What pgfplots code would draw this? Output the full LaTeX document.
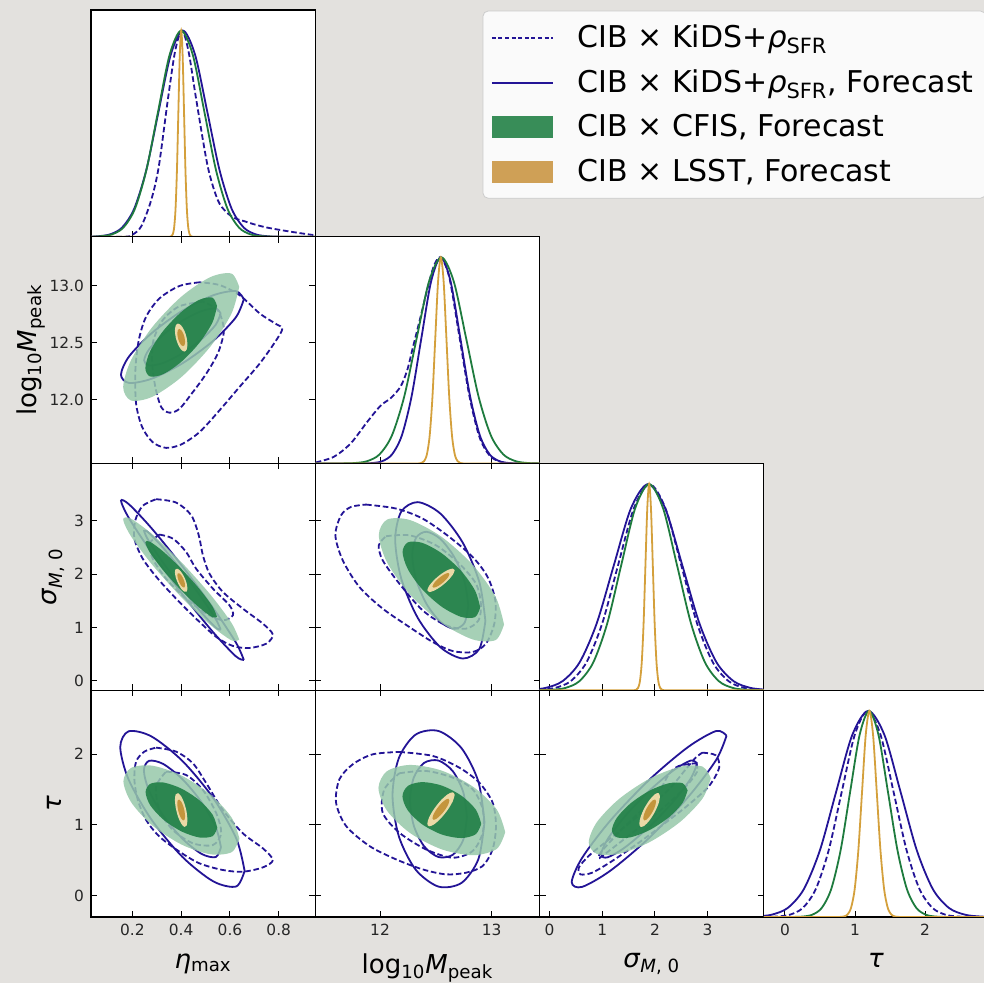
\documentclass[border=0pt]{standalone}
\usepackage{pgfplots}
\pgfplotsset{compat=1.18}
\usepackage{fontspec}
\setmainfont{DejaVu Sans}
\definecolor{bg}{HTML}{E3E1DE}
\definecolor{kblue}{HTML}{231496}
\definecolor{cgreen}{HTML}{1E7B3E}
\definecolor{cgreenlight}{HTML}{97C8AA}
\definecolor{cgreendark}{HTML}{1F7F45}
\definecolor{cgreenleg}{HTML}{177A3C}
\definecolor{lgoldlight}{HTML}{EBD9A6}
\definecolor{lgolddark}{HTML}{C4953C}
\definecolor{lgoldline}{HTML}{D4A03C}
\definecolor{lgoldleg}{HTML}{C8913A}
\pgfplotsset{
  panel/.style={scale only axis, width=112.15pt, height=113.375pt, anchor=south west,
    axis line style={black, line width=0.55pt},
    tick align=inside, major tick length=3pt, every tick/.style={black, line width=0.5pt},
    axis background/.style={fill=white},
    tick label style={font=\fontsize{7.7}{9}\selectfont, text=black!85},
    label style={font=\fontsize{13}{15}\selectfont, text=black},
    xlabel style={yshift=-2pt},
    xticklabel=\empty, yticklabel=\empty},
  oned/.style={panel, ymin=0, ymax=1.1, ytick=\empty, xtick pos=bottom},
  twod/.style={panel, xtick pos=both, ytick pos=both},
  ex/.style={xmin=0.03, xmax=0.95, xtick={0.2,0.4,0.6,0.8}},
  mx/.style={xmin=11.42, xmax=13.43, xtick={12,13}},
  sx/.style={xmin=-0.19, xmax=4.07, xtick={0,1,2,3}},
  tx/.style={xmin=-0.30, xmax=2.90, xtick={0,1,2}},
  my/.style={ymin=11.44, ymax=13.43, ytick={12,12.5,13}},
  sy/.style={ymin=-0.18, ymax=4.08, ytick={0,1,2,3}},
  ty/.style={ymin=-0.30, ymax=2.90, ytick={0,1,2}},
  dsh/.style={kblue, line width=0.9pt, dash pattern=on 2.8pt off 1.4pt, smooth, no markers},
  sol/.style={kblue, line width=0.9pt, smooth, no markers},
  gout/.style={draw=none, fill=cgreenlight, fill opacity=0.85, smooth, no markers},
  gin/.style={draw=none, fill=cgreendark, fill opacity=0.9, smooth, no markers},
  yout/.style={draw=none, fill=lgoldlight, smooth, no markers},
  yin/.style={draw=none, fill=lgolddark, smooth, no markers},
  gl/.style={cgreen, line width=0.9pt, smooth, no markers},
  yl/.style={lgoldline, line width=0.9pt, smooth, no markers},
  linelegend/.style={legend image code/.code={\draw[##1, sharp corners] (0pt,0pt) -- (30.5pt,0pt);}},
  boxlegend/.style={legend image code/.code={\fill[##1, sharp corners] (0pt,-5.5pt) rectangle (30.5pt,5.5pt);}},
}
\begin{document}
\begin{tikzpicture}
\path[use as bounding box, fill=bg] (0pt,0pt) rectangle (492pt,491.5pt);

% ---------- eta 1D
\begin{axis}[oned, ex, at={(45.5pt,373.125pt)}]
\addplot[dsh] coordinates {(0.03,0) (0.17,0) (0.20,0.01) (0.236,0.05) (0.277,0.178) (0.308,0.34) (0.345,0.663) (0.375,0.9) (0.403,1.0) (0.43,0.9) (0.462,0.663) (0.509,0.34) (0.55,0.178) (0.585,0.12) (0.62,0.09) (0.66,0.075) (0.70,0.06) (0.75,0.045) (0.82,0.03) (0.89,0.017) (0.95,0.007)};
\addplot[sol] coordinates {(0.03,0.0001) (0.057,0.0022) (0.107,0.0111) (0.157,0.0439) (0.207,0.1353) (0.257,0.3247) (0.307,0.6065) (0.357,0.8825) (0.407,1) (0.457,0.8825) (0.507,0.6065) (0.557,0.3247) (0.607,0.1353) (0.657,0.0439) (0.707,0.0111) (0.757,0.0022) (0.807,0.0003) (0.907,0) (0.95,0)};
\addplot[gl] coordinates {(0.03,0) (0.0675,0.0022) (0.115,0.0111) (0.1625,0.0439) (0.21,0.1353) (0.2575,0.3247) (0.305,0.6065) (0.3525,0.8825) (0.4,1) (0.4475,0.8825) (0.495,0.6065) (0.5425,0.3247) (0.59,0.1353) (0.6375,0.0439) (0.685,0.0111) (0.7325,0.0022) (0.78,0.0003) (0.875,0) (0.95,0)};
\addplot[yl] coordinates {(0.03,0) (0.33,0) (0.3536,0.0003) (0.3594,0.0022) (0.3652,0.0111) (0.371,0.0439) (0.3768,0.1353) (0.3826,0.3247) (0.3884,0.6065) (0.3942,0.8825) (0.4,1) (0.4058,0.8825) (0.4116,0.6065) (0.4174,0.3247) (0.4232,0.1353) (0.429,0.0439) (0.4348,0.0111) (0.4406,0.0022) (0.4464,0.0003) (0.47,0) (0.95,0)};
\end{axis}

% ---------- eta - logM
\begin{axis}[twod, ex, my, at={(45.5pt,259.75pt)}, yticklabels={12.0,12.5,13.0},
  ylabel={log\textsubscript{10}\textit{M}\textsubscript{peak}},
  ylabel style={at={(axis description cs:-0.245,0.5)}, anchor=base}]
\addplot[dsh] coordinates {(0.475,13.03) (0.393,12.998) (0.311,12.889) (0.256,12.728) (0.226,12.522) (0.212,12.258) (0.215,11.965) (0.240,11.759) (0.283,11.627) (0.338,11.577) (0.400,11.607) (0.475,11.715) (0.557,11.906) (0.639,12.111) (0.722,12.317) (0.790,12.522) (0.815,12.625) (0.790,12.663) (0.722,12.757) (0.639,12.918) (0.557,13.006) (0.475,13.03)};
\addplot[dsh] coordinates {(0.489,12.86) (0.393,12.82) (0.325,12.70) (0.286,12.52) (0.281,12.32) (0.294,12.11) (0.318,11.935) (0.352,11.886) (0.393,11.92) (0.448,12.067) (0.503,12.229) (0.550,12.405) (0.574,12.58) (0.568,12.698) (0.544,12.80) (0.489,12.86)};
\addplot[sol] coordinates {(0.657,12.882) (0.624,12.953) (0.531,12.916) (0.405,12.781) (0.279,12.584) (0.186,12.379) (0.153,12.219) (0.186,12.147) (0.279,12.184) (0.405,12.319) (0.531,12.516) (0.624,12.722) (0.657,12.882)};
\addplot[sol] coordinates {(0.562,12.756) (0.541,12.800) (0.483,12.777) (0.405,12.693) (0.327,12.571) (0.269,12.444) (0.248,12.344) (0.269,12.300) (0.327,12.323) (0.405,12.407) (0.483,12.529) (0.541,12.656) (0.562,12.756)};
\addplot[gout] coordinates {(0.638,12.990) (0.606,13.107) (0.519,13.075) (0.400,12.903) (0.281,12.636) (0.194,12.346) (0.162,12.111) (0.194,11.993) (0.281,12.025) (0.400,12.197) (0.519,12.464) (0.606,12.754) (0.638,12.990)};
\addplot[gin] coordinates {(0.547,12.823) (0.528,12.896) (0.474,12.876) (0.400,12.769) (0.326,12.603) (0.272,12.423) (0.253,12.277) (0.272,12.204) (0.326,12.224) (0.400,12.331) (0.474,12.497) (0.528,12.677) (0.547,12.823)};
\addplot[yout] coordinates {(0.4257,12.4837) (0.4223,12.545) (0.4129,12.6062) (0.400,12.6511) (0.3871,12.6676) (0.3777,12.6512) (0.3743,12.6063) (0.3777,12.545) (0.3871,12.4838) (0.400,12.4389) (0.4129,12.4224) (0.4223,12.4388) (0.4257,12.4837)};
\addplot[yin] coordinates {(0.4159,12.507) (0.4138,12.545) (0.408,12.583) (0.400,12.6108) (0.392,12.621) (0.3862,12.6108) (0.3841,12.583) (0.3862,12.545) (0.392,12.507) (0.400,12.4792) (0.408,12.469) (0.4138,12.4792) (0.4159,12.507)};
\end{axis}

% ---------- logM 1D
\begin{axis}[oned, mx, at={(157.65pt,259.75pt)}]
\addplot[dsh] coordinates {(11.424,0.005) (11.588,0.033) (11.738,0.098) (11.887,0.203) (12.006,0.281) (12.096,0.317) (12.185,0.374) (12.245,0.455) (12.29,0.553) (12.335,0.65) (12.38,0.748) (12.424,0.846) (12.483,0.959) (12.543,1.0) (12.62,0.905) (12.71,0.62) (12.80,0.33) (12.89,0.13) (12.98,0.04) (13.07,0.01) (13.2,0.0) (13.43,0)};
\addplot[sol] coordinates {(11.42,0) (11.7,0) (11.845,0.0003) (11.9325,0.0022) (12.02,0.0111) (12.1075,0.0439) (12.195,0.1353) (12.2825,0.3247) (12.37,0.6065) (12.4575,0.8825) (12.545,1) (12.6325,0.8825) (12.72,0.6065) (12.8075,0.3247) (12.895,0.1353) (12.9825,0.0439) (13.07,0.0111) (13.1575,0.0022) (13.245,0.0003) (13.35,0) (13.43,0)};
\addplot[gl] coordinates {(11.42,0) (11.55,0) (11.662,0.0003) (11.773,0.0022) (11.884,0.0111) (11.995,0.0439) (12.106,0.1353) (12.217,0.3247) (12.328,0.6065) (12.439,0.8825) (12.55,1) (12.661,0.8825) (12.772,0.6065) (12.883,0.3247) (12.994,0.1353) (13.105,0.0439) (13.216,0.0111) (13.327,0.0022) (13.438,0.0003)};
\addplot[yl] coordinates {(11.42,0) (12.3,0) (12.345,0.0003) (12.37,0.0022) (12.395,0.0111) (12.42,0.0439) (12.445,0.1353) (12.47,0.3247) (12.495,0.6065) (12.52,0.8825) (12.545,1) (12.57,0.8825) (12.595,0.6065) (12.62,0.3247) (12.645,0.1353) (12.67,0.0439) (12.695,0.0111) (12.72,0.0022) (12.745,0.0003) (12.79,0) (13.43,0)};
\end{axis}

% ---------- eta - sigma
\begin{axis}[twod, ex, sy, at={(45.5pt,146.375pt)}, yticklabels={0,1,2,3},
  ylabel={\textit{σ}\textsubscript{\textit{M}, 0}},
  ylabel style={at={(axis description cs:-0.152,0.5)}, anchor=base}]
\addplot[dsh] coordinates {(0.297,3.409) (0.379,3.346) (0.441,3.108) (0.472,2.732) (0.489,2.356) (0.516,2.011) (0.571,1.667) (0.653,1.353) (0.735,1.071) (0.776,0.865) (0.749,0.695) (0.680,0.614) (0.612,0.652) (0.544,0.821) (0.461,1.165) (0.379,1.541) (0.304,1.917) (0.242,2.293) (0.208,2.669) (0.212,3.014) (0.242,3.283) (0.297,3.409)};
\addplot[dsh] coordinates {(0.311,2.744) (0.366,2.669) (0.420,2.419) (0.461,2.105) (0.530,1.729) (0.598,1.416) (0.612,1.228) (0.571,1.134) (0.503,1.259) (0.420,1.541) (0.338,1.917) (0.283,2.293) (0.270,2.575) (0.311,2.744)};
\addplot[sol] coordinates {(0.657,0.389) (0.624,0.720) (0.531,1.364) (0.405,2.147) (0.279,2.860) (0.186,3.312) (0.153,3.381) (0.186,3.050) (0.279,2.406) (0.405,1.623) (0.531,0.910) (0.624,0.458) (0.657,0.389)};
\addplot[sol] coordinates {(0.562,0.957) (0.541,1.163) (0.483,1.562) (0.405,2.048) (0.327,2.490) (0.269,2.770) (0.248,2.813) (0.269,2.607) (0.327,2.208) (0.405,1.722) (0.483,1.280) (0.541,1.000) (0.562,0.957)};
\addplot[gout] coordinates {(0.638,0.771) (0.606,1.087) (0.519,1.621) (0.400,2.229) (0.281,2.750) (0.194,3.042) (0.162,3.029) (0.194,2.713) (0.281,2.179) (0.400,1.571) (0.519,1.050) (0.606,0.758) (0.638,0.771)};
\addplot[gin] coordinates {(0.547,1.200) (0.528,1.396) (0.474,1.727) (0.400,2.104) (0.326,2.427) (0.272,2.609) (0.253,2.600) (0.272,2.404) (0.326,2.073) (0.400,1.696) (0.474,1.373) (0.528,1.191) (0.547,1.200)};
\addplot[yout] coordinates {(0.4257,1.7306) (0.4223,1.830) (0.4129,1.9441) (0.400,2.0424) (0.3871,2.0985) (0.3777,2.0974) (0.3743,2.0394) (0.3777,1.940) (0.3871,1.8259) (0.400,1.7276) (0.4129,1.6715) (0.4223,1.6726) (0.4257,1.7306)};
\addplot[yin] coordinates {(0.4159,1.7892) (0.4138,1.8509) (0.408,1.9217) (0.400,1.9827) (0.392,2.0175) (0.3862,2.0169) (0.3841,1.9808) (0.3862,1.9191) (0.392,1.8483) (0.400,1.7873) (0.408,1.7525) (0.4138,1.7531) (0.4159,1.7892)};
\end{axis}

% ---------- logM - sigma
\begin{axis}[twod, mx, sy, at={(157.65pt,146.375pt)}]
\addplot[dsh] coordinates {(11.875,3.308) (12.144,3.233) (12.382,3.044) (12.621,2.700) (12.83,2.324) (12.964,1.948) (13.033,1.509) (13.024,1.070) (12.949,0.695) (12.83,0.538) (12.651,0.557) (12.472,0.726) (12.263,1.008) (12.024,1.353) (11.815,1.760) (11.666,2.261) (11.60,2.731) (11.651,3.107) (11.741,3.264) (11.875,3.308)};
\addplot[dsh] coordinates {(12.054,2.713) (12.263,2.731) (12.502,2.543) (12.71,2.198) (12.859,1.823) (12.904,1.447) (12.883,1.133) (12.77,0.977) (12.591,1.039) (12.382,1.321) (12.173,1.823) (12.024,2.261) (11.989,2.543) (12.054,2.713)};
\addplot[sol] coordinates {(12.944,1.121) (12.890,1.851) (12.742,2.590) (12.540,3.140) (12.338,3.354) (12.190,3.175) (12.136,2.649) (12.190,1.919) (12.338,1.180) (12.540,0.630) (12.742,0.416) (12.890,0.595) (12.944,1.121)};
\addplot[sol] coordinates {(12.791,1.411) (12.757,1.864) (12.665,2.322) (12.540,2.664) (12.415,2.797) (12.323,2.685) (12.289,2.359) (12.323,1.906) (12.415,1.448) (12.540,1.106) (12.665,0.973) (12.757,1.085) (12.791,1.411)};
\addplot[gout] coordinates {(13.111,1.055) (13.036,1.573) (12.831,2.176) (12.550,2.704) (12.270,3.016) (12.064,3.027) (11.989,2.735) (12.064,2.218) (12.270,1.614) (12.550,1.086) (12.831,0.774) (13.036,0.763) (13.111,1.055)};
\addplot[gin] coordinates {(12.898,1.374) (12.851,1.695) (12.724,2.069) (12.550,2.397) (12.376,2.590) (12.249,2.597) (12.202,2.416) (12.249,2.095) (12.376,1.721) (12.550,1.393) (12.724,1.200) (12.851,1.193) (12.898,1.374)};
\addplot[yout] coordinates {(12.669,2.072) (12.652,2.105) (12.607,2.079) (12.546,2.001) (12.485,1.892) (12.440,1.781) (12.424,1.698) (12.440,1.665) (12.485,1.691) (12.546,1.769) (12.607,1.878) (12.652,1.989) (12.669,2.072)};
\addplot[yin] coordinates {(12.622,2.001) (12.612,2.022) (12.584,2.006) (12.546,1.957) (12.508,1.889) (12.480,1.820) (12.470,1.769) (12.480,1.748) (12.508,1.764) (12.546,1.813) (12.584,1.881) (12.612,1.950) (12.622,2.001)};
\end{axis}

% ---------- sigma 1D
\begin{axis}[oned, sx, at={(269.8pt,146.375pt)}]
\addplot[dsh] coordinates {(-0.2,0.0022) (0.1,0.0111) (0.4,0.0439) (0.7,0.1353) (1.0,0.3247) (1.3,0.6065) (1.6,0.8825) (1.9,1) (2.2,0.8825) (2.5,0.6065) (2.8,0.3247) (3.1,0.1353) (3.4,0.0439) (3.7,0.0111) (4.0,0.0022) (4.3,0.0003)};
\addplot[sol] coordinates {(-0.405,0.0022) (-0.08,0.0111) (0.245,0.0439) (0.57,0.1353) (0.895,0.3247) (1.22,0.6065) (1.545,0.8825) (1.87,1) (2.195,0.8825) (2.52,0.6065) (2.845,0.3247) (3.17,0.1353) (3.495,0.0439) (3.82,0.0111) (4.145,0.0022)};
\addplot[gl] coordinates {(-0.19,0.0005) (0.035,0.0022) (0.30,0.0111) (0.565,0.0439) (0.83,0.1353) (1.095,0.3247) (1.36,0.6065) (1.625,0.8825) (1.89,1) (2.155,0.8825) (2.42,0.6065) (2.685,0.3247) (2.95,0.1353) (3.215,0.0439) (3.48,0.0111) (3.745,0.0022) (4.01,0.0003) (4.07,0.0002)};
\addplot[yl] coordinates {(-0.19,0) (1.55,0) (1.61,0.0003) (1.645,0.0022) (1.68,0.0111) (1.715,0.0439) (1.75,0.1353) (1.785,0.3247) (1.82,0.6065) (1.855,0.8825) (1.89,1) (1.925,0.8825) (1.96,0.6065) (1.995,0.3247) (2.03,0.1353) (2.065,0.0439) (2.10,0.0111) (2.135,0.0022) (2.17,0.0003) (2.23,0) (4.07,0)};
\end{axis}

% ---------- eta - tau
\begin{axis}[twod, ex, ty, at={(45.5pt,33pt)}, xticklabels={0.2,0.4,0.6,0.8}, yticklabels={0,1,2},
  xlabel={\textit{η}\textsubscript{max}}, ylabel={\textit{τ}},
  ylabel style={at={(axis description cs:-0.13,0.5)}, anchor=base}]
\addplot[dsh] coordinates {(0.297,2.09) (0.379,2.034) (0.448,1.869) (0.503,1.587) (0.571,1.21) (0.653,0.881) (0.735,0.669) (0.776,0.504) (0.735,0.4) (0.653,0.339) (0.571,0.363) (0.475,0.457) (0.393,0.622) (0.311,0.834) (0.256,1.069) (0.222,1.352) (0.208,1.634) (0.215,1.893) (0.249,2.034) (0.297,2.09)};
\addplot[dsh] coordinates {(0.338,1.751) (0.42,1.704) (0.489,1.492) (0.544,1.163) (0.564,0.881) (0.53,0.716) (0.448,0.74) (0.366,0.927) (0.311,1.21) (0.297,1.54) (0.338,1.751)};
\addplot[sol] coordinates {(0.660,0.352) (0.626,0.808) (0.532,1.375) (0.405,1.902) (0.278,2.248) (0.184,2.320) (0.150,2.098) (0.184,1.642) (0.278,1.075) (0.405,0.548) (0.532,0.202) (0.626,0.131) (0.660,0.352)};
\addplot[sol] coordinates {(0.563,0.684) (0.542,0.966) (0.484,1.318) (0.405,1.645) (0.326,1.860) (0.268,1.904) (0.247,1.767) (0.268,1.484) (0.326,1.132) (0.405,0.805) (0.484,0.590) (0.542,0.546) (0.563,0.684)};
\addplot[gout] coordinates {(0.639,0.804) (0.607,1.102) (0.520,1.429) (0.401,1.697) (0.282,1.835) (0.195,1.805) (0.163,1.616) (0.195,1.318) (0.282,0.991) (0.401,0.723) (0.520,0.585) (0.607,0.615) (0.639,0.804)};
\addplot[gin] coordinates {(0.548,0.958) (0.529,1.143) (0.475,1.346) (0.401,1.512) (0.327,1.598) (0.273,1.579) (0.254,1.462) (0.273,1.277) (0.327,1.074) (0.401,0.908) (0.475,0.822) (0.529,0.841) (0.548,0.958)};
\addplot[yout] coordinates {(0.4257,1.0659) (0.4223,1.1813) (0.4129,1.3043) (0.400,1.4021) (0.3871,1.4485) (0.3777,1.4309) (0.3743,1.3541) (0.3777,1.2387) (0.3871,1.1157) (0.400,1.0179) (0.4129,0.9715) (0.4223,0.9891) (0.4257,1.0659)};
\addplot[yin] coordinates {(0.4159,1.1206) (0.4138,1.1922) (0.408,1.2685) (0.400,1.3292) (0.392,1.3579) (0.3862,1.347) (0.3841,1.2994) (0.3862,1.2278) (0.392,1.1515) (0.400,1.0908) (0.408,1.0621) (0.4138,1.073) (0.4159,1.1206)};
\end{axis}

% ---------- logM - tau
\begin{axis}[twod, mx, ty, at={(157.65pt,33pt)}, xticklabels={12,13},
  xlabel={log\textsubscript{10}\textit{M}\textsubscript{peak}}]
\addplot[dsh] coordinates {(12.173,2.029) (12.472,1.973) (12.71,1.808) (12.889,1.596) (13.009,1.314) (13.039,0.984) (13.009,0.655) (12.919,0.419) (12.77,0.325) (12.591,0.302) (12.382,0.372) (12.144,0.513) (11.905,0.702) (11.696,0.984) (11.606,1.314) (11.636,1.643) (11.756,1.855) (11.935,1.996) (12.173,2.029)};
\addplot[dsh] coordinates {(12.173,1.728) (12.412,1.761) (12.651,1.667) (12.83,1.502) (12.92,1.219) (12.92,0.89) (12.83,0.631) (12.651,0.537) (12.412,0.654) (12.173,0.89) (12.024,1.172) (12.039,1.502) (12.173,1.728)};
\addplot[sol] coordinates {(12.936,1.038) (12.881,1.612) (12.730,2.083) (12.524,2.325) (12.318,2.273) (12.168,1.940) (12.112,1.417) (12.168,0.842) (12.318,0.371) (12.524,0.129) (12.730,0.181) (12.881,0.514) (12.936,1.038)};
\addplot[sol] coordinates {(12.779,1.109) (12.745,1.466) (12.652,1.758) (12.524,1.908) (12.396,1.876) (12.303,1.669) (12.269,1.345) (12.303,0.988) (12.396,0.696) (12.524,0.546) (12.652,0.578) (12.745,0.785) (12.779,1.109)};
\addplot[gout] coordinates {(13.122,0.897) (13.046,1.217) (12.838,1.534) (12.554,1.765) (12.270,1.846) (12.062,1.757) (11.986,1.521) (12.062,1.202) (12.270,0.884) (12.554,0.654) (12.838,0.572) (13.046,0.661) (13.122,0.897)};
\addplot[gin] coordinates {(12.907,1.015) (12.859,1.214) (12.730,1.411) (12.554,1.554) (12.378,1.604) (12.249,1.549) (12.201,1.403) (12.249,1.204) (12.378,1.007) (12.554,0.864) (12.730,0.814) (12.859,0.869) (12.907,1.015)};
\addplot[yout] coordinates {(12.669,1.424) (12.652,1.460) (12.607,1.432) (12.546,1.347) (12.485,1.227) (12.440,1.107) (12.424,1.016) (12.440,0.980) (12.485,1.008) (12.546,1.094) (12.607,1.213) (12.652,1.334) (12.669,1.424)};
\addplot[yin] coordinates {(12.622,1.347) (12.612,1.369) (12.584,1.351) (12.546,1.299) (12.508,1.225) (12.480,1.150) (12.470,1.093) (12.480,1.071) (12.508,1.089) (12.546,1.142) (12.584,1.215) (12.612,1.290) (12.622,1.347)};
\end{axis}

% ---------- sigma - tau
\begin{axis}[twod, sx, ty, at={(269.8pt,33pt)}, xticklabels={0,1,2,3},
  xlabel={\textit{σ}\textsubscript{\textit{M}, 0}}]
\addplot[dsh] coordinates {(2.902,2.019) (3.156,1.982) (3.22,1.808) (3.029,1.549) (2.648,1.29) (2.204,1.031) (1.696,0.749) (1.188,0.49) (0.807,0.325) (0.585,0.302) (0.553,0.396) (0.775,0.584) (1.251,0.866) (1.759,1.172) (2.267,1.502) (2.585,1.784) (2.775,1.949) (2.902,2.019)};
\addplot[dsh] coordinates {(2.78,1.87) (2.80,1.75) (2.6,1.55) (2.25,1.30) (1.80,1.02) (1.35,0.76) (1.0,0.56) (0.93,0.53) (0.98,0.62) (1.35,0.92) (1.8,1.25) (2.1,1.5) (2.27,1.72) (2.45,1.83) (2.78,1.87)};
\addplot[sol] coordinates {(3.360,2.259) (3.163,2.325) (2.625,2.096) (1.890,1.634) (1.155,1.062) (0.617,0.534) (0.420,0.191) (0.617,0.125) (1.155,0.354) (1.890,0.816) (2.625,1.388) (3.163,1.916) (3.360,2.259)};
\addplot[sol] coordinates {(2.802,1.867) (2.680,1.908) (2.346,1.766) (1.890,1.479) (1.434,1.124) (1.100,0.796) (0.978,0.583) (1.100,0.542) (1.434,0.684) (1.890,0.971) (2.346,1.326) (2.680,1.654) (2.802,1.867)};
\addplot[gout] coordinates {(3.061,1.658) (2.906,1.822) (2.482,1.821) (1.902,1.654) (1.323,1.368) (0.898,1.039) (0.743,0.754) (0.898,0.590) (1.323,0.592) (1.902,0.758) (2.482,1.044) (2.906,1.374) (3.061,1.658)};
\addplot[gin] coordinates {(2.621,1.487) (2.525,1.588) (2.262,1.587) (1.902,1.484) (1.543,1.307) (1.279,1.102) (1.183,0.925) (1.279,0.824) (1.543,0.825) (1.902,0.928) (2.262,1.105) (2.525,1.310) (2.621,1.487)};
\addplot[yout] coordinates {(2.096,1.402) (2.070,1.449) (1.998,1.431) (1.900,1.354) (1.802,1.239) (1.730,1.116) (1.704,1.018) (1.730,0.972) (1.802,0.989) (1.900,1.066) (1.998,1.181) (2.070,1.304) (2.096,1.402)};
\addplot[yin] coordinates {(2.022,1.329) (2.005,1.358) (1.961,1.347) (1.900,1.299) (1.839,1.228) (1.795,1.152) (1.778,1.091) (1.795,1.062) (1.839,1.073) (1.900,1.121) (1.961,1.192) (2.005,1.268) (2.022,1.329)};
\end{axis}

% ---------- tau 1D
\begin{axis}[oned, tx, at={(381.95pt,33pt)}, xticklabels={0,1,2}, xlabel={\textit{τ}}]
\addplot[dsh] coordinates {(-0.3,0.0003) (-0.115,0.0022) (0.07,0.0111) (0.255,0.0439) (0.44,0.1353) (0.625,0.3247) (0.81,0.6065) (0.995,0.8825) (1.18,1) (1.365,0.8825) (1.55,0.6065) (1.735,0.3247) (1.92,0.1353) (2.105,0.0439) (2.29,0.0111) (2.475,0.0022) (2.66,0.0003) (2.9,0)};
\addplot[sol] coordinates {(-0.42,0.0022) (-0.19,0.0111) (0.04,0.0439) (0.27,0.1353) (0.50,0.3247) (0.73,0.6065) (0.96,0.8825) (1.19,1) (1.42,0.8825) (1.65,0.6065) (1.88,0.3247) (2.11,0.1353) (2.34,0.0439) (2.57,0.0111) (2.80,0.0022) (3.03,0.0003)};
\addplot[gl] coordinates {(-0.3,0) (0.0,0) (0.12,0.0003) (0.255,0.0022) (0.39,0.0111) (0.525,0.0439) (0.66,0.1353) (0.795,0.3247) (0.93,0.6065) (1.065,0.8825) (1.2,1) (1.335,0.8825) (1.47,0.6065) (1.605,0.3247) (1.74,0.1353) (1.875,0.0439) (2.01,0.0111) (2.145,0.0022) (2.28,0.0003) (2.45,0) (2.9,0)};
\addplot[yl] coordinates {(-0.3,0) (0.7,0) (0.785,0.0003) (0.8375,0.0022) (0.89,0.0111) (0.9425,0.0439) (0.995,0.1353) (1.0475,0.3247) (1.10,0.6065) (1.1525,0.8825) (1.205,1) (1.2575,0.8825) (1.31,0.6065) (1.3625,0.3247) (1.415,0.1353) (1.4675,0.0439) (1.52,0.0111) (1.5725,0.0022) (1.625,0.0003) (1.7,0) (2.9,0)};
\end{axis}

% ---------- legend
\begin{axis}[at={(45.5pt,373.125pt)}, anchor=south west, scale only axis, width=112.15pt, height=113.375pt,
  hide axis, xmin=0, xmax=1, ymin=0, ymax=1, legend cell align=left,
  legend style={at={(3.99,0.997)}, anchor=north east, font=\fontsize{15}{18}\selectfont,
    draw=black!20, fill=white, fill opacity=0.85, text opacity=1, rounded corners=2.5pt,
    inner xsep=4pt, inner ysep=5pt, row sep=5.5pt,
    /tikz/every odd column/.append style={column sep=10pt}}]
\addlegendimage{kblue, line width=0.7pt, dash pattern=on 2pt off 1.3pt, linelegend}
\addlegendentry{CIB × KiDS+\textit{ρ}\textsubscript{SFR}}
\addlegendimage{kblue, line width=0.8pt, linelegend}
\addlegendentry{CIB × KiDS+\textit{ρ}\textsubscript{SFR}, Forecast}
\addlegendimage{fill=cgreenleg, draw=none, boxlegend}
\addlegendentry{CIB × CFIS, Forecast}
\addlegendimage{fill=lgoldleg, draw=none, boxlegend}
\addlegendentry{CIB × LSST, Forecast}
\end{axis}
\end{tikzpicture}
\end{document}
